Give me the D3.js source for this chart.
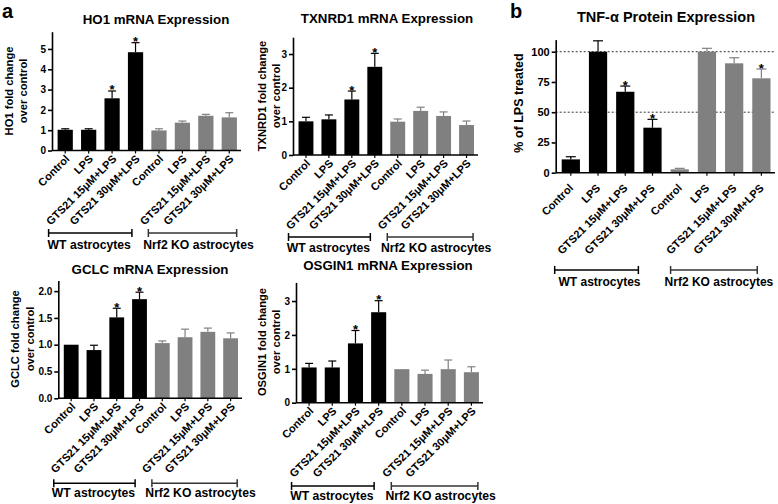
<!DOCTYPE html>
<html>
<head>
<meta charset="utf-8">
<script src="https://cdn.jsdelivr.net/npm/d3@7"></script>
<style>
  body { margin: 0; background: #fff; }
  text { font-family: "Liberation Sans", Arial, sans-serif; font-weight: bold; fill: #000; }
</style>
</head>
<body>
<div id="chart"></div>
<script>
// categories
const treatments = ["Control", "LPS", "GTS21 15\u03bcM+LPS", "GTS21 30\u03bcM+LPS"];
const categories = treatments.concat(treatments);
const cellTypes = ["WT astrocytes", "Nrf2 KO astrocytes"];

// panel a values (fold change over control), mean and SEM
const ho1Mean = [1.02, 1.02, 2.57, 4.84, 0.99, 1.37, 1.71, 1.63];
const ho1Err = [0.05, 0.05, 0.36, 0.47, 0.08, 0.08, 0.07, 0.23];
const txnrd1Mean = [1.0, 1.06, 1.65, 2.62, 0.99, 1.31, 1.16, 0.89];
const txnrd1Err = [0.12, 0.13, 0.25, 0.40, 0.08, 0.11, 0.12, 0.12];
const gclcMean = [1.0, 0.9, 1.51, 1.85, 1.03, 1.14, 1.24, 1.12];
const gclcErr = [0, 0.09, 0.17, 0.13, 0.04, 0.15, 0.07, 0.10];
const osgin1Mean = [1.04, 1.04, 1.75, 2.67, 0.99, 0.85, 0.99, 0.9];
const osgin1Err = [0.12, 0.19, 0.38, 0.34, 0, 0.11, 0.27, 0.16];

// panel b values (% of LPS treated)
const tnfMean = [11, 100, 66.9, 37.2, 2.8, 100, 90.4, 78];
const tnfErr = [2.2, 9, 4.7, 6.9, 0.8, 2.8, 4.6, 7.7];

// significance marks (bar index)
const ho1Stars = [2, 3];
const txnrd1Stars = [2, 3];
const gclcStars = [2, 3];
const osgin1Stars = [2, 3];
const tnfStars = [2, 3, 7];

// y ticks
const ho1Ticks = [0, 1, 2, 3, 4, 5];
const txnrd1Ticks = [0, 1, 2, 3];
const gclcTicks = [0, 0.5, 1, 1.5, 2];
const osgin1Ticks = [0, 1, 2, 3];
const tnfTicks = [0, 25, 50, 75, 100];
const tnfDotted = [50, 100];

let width = 778;
let height = 504;
let barColor = function (i) { return i < 4 ? "#000" : "#808080"; };

let svg = d3.select("#chart").append("svg")
  .attr("width", width)
  .attr("height", height);

const drawPanel = (p) => {
  let g = svg.append("g");

  let x = d3.scaleBand()
    .domain(d3.range(categories.length))
    .range([p.left + 1.5, p.right])
    .paddingInner(p.pad)
    .paddingOuter(p.pad / 2);

  let y = d3.scaleLinear()
    .domain([0, p.yMax])
    .range([p.bottom, p.top]);

  // dotted reference lines
  (p.dotted || []).forEach(function (v) {
    g.append("line")
      .attr("x1", p.left).attr("x2", p.right)
      .attr("y1", y(v)).attr("y2", y(v))
      .attr("stroke", "#333")
      .attr("stroke-width", 1)
      .attr("stroke-dasharray", "2,2");
  });

  // error bars (upper only)
  p.means.forEach(function (d, i) {
    if (p.errs[i] <= 0) return;
    let cx = x(i) + x.bandwidth() / 2;
    g.append("line")
      .attr("x1", cx).attr("x2", cx)
      .attr("y1", y(d)).attr("y2", y(d + p.errs[i]))
      .attr("stroke", barColor(i))
      .attr("stroke-width", 1.2);
    g.append("line")
      .attr("x1", cx - p.cap).attr("x2", cx + p.cap)
      .attr("y1", y(d + p.errs[i])).attr("y2", y(d + p.errs[i]))
      .attr("stroke", barColor(i))
      .attr("stroke-width", 1.2);
  });

  g.selectAll(".bar")
    .data(p.means)
    .enter()
    .append("rect")
    .attr("class", "bar")
    .attr("x", function (d, i) { return x(i); })
    .attr("y", function (d) { return y(d); })
    .attr("width", x.bandwidth())
    .attr("height", function (d) { return y(0) - y(d); })
    .attr("fill", function (d, i) { return barColor(i); });

  // stars
  g.selectAll(".star")
    .data(p.stars)
    .enter()
    .append("text")
    .attr("class", "star")
    .attr("x", function (i) { return x(i) + x.bandwidth() / 2; })
    .attr("y", function (i) { return y(p.means[i] + p.errs[i]) + 3.5; })
    .attr("text-anchor", "middle")
    .style("font-size", "13px")
    .text("*");

  // y axis
  let yAxis = d3.axisLeft(y)
    .tickValues(p.ticks)
    .tickFormat(p.fmt)
    .tickSize(4)
    .tickSizeOuter(0)
    .tickPadding(2);

  let ya = g.append("g")
    .attr("transform", `translate(${p.left}, 0)`)
    .call(yAxis);
  ya.selectAll("text").style("font-size", p.tickFont + "px").style("font-family", null);
  ya.selectAll("line, path").attr("stroke", "#000").attr("stroke-width", 1.6);

  // x axis
  let xAxis = d3.axisBottom(x)
    .tickFormat(function (i) { return categories[i]; })
    .tickSize(3)
    .tickSizeOuter(0);

  let xa = g.append("g")
    .attr("transform", `translate(0, ${p.bottom})`)
    .call(xAxis);
  xa.select(".domain").attr("d", `M${p.left},0H${p.right}`);
  xa.selectAll("line, path").attr("stroke", "#000").attr("stroke-width", 1.6);
  xa.selectAll("line").attr("stroke-width", 1.2);
  xa.selectAll("text")
    .attr("x", null).attr("y", null).attr("dy", null)
    .attr("text-anchor", "end")
    .attr("transform", `translate(${p.labDx}, ${p.labDy}) rotate(-45)`)
    .style("font-size", p.labFont + "px")
    .style("font-family", null);

  // y title
  p.yLabel.forEach(function (t, k) {
    g.append("text")
      .attr("transform", `translate(${p.yLabX[k]}, ${p.yLabY}) rotate(-90)`)
      .attr("text-anchor", "middle")
      .style("font-size", p.yLabFont + "px")
      .text(t);
  });

  // title
  g.append("text")
    .attr("x", p.titleX)
    .attr("y", p.titleY)
    .attr("text-anchor", "middle")
    .style("font-size", p.titleFont + "px")
    .text(p.title);

  // group brackets
  p.brackets.forEach(function (b, k) {
    let x1 = x(b[0]) + b[2];
    let x2 = x(b[1]) + b[3];
    let bg = g.append("g");
    bg.append("line")
      .attr("x1", x1).attr("x2", x2)
      .attr("y1", p.brY).attr("y2", p.brY);
    bg.append("line")
      .attr("x1", x1).attr("x2", x1)
      .attr("y1", p.brY - 4).attr("y2", p.brY + 4);
    bg.append("line")
      .attr("x1", x2).attr("x2", x2)
      .attr("y1", p.brY - 4).attr("y2", p.brY + 4);
    bg.selectAll("line").attr("stroke", k === 0 ? "#000" : "#333").attr("stroke-width", 1.5);
    bg.append("text")
      .attr("x", (x1 + x2) / 2 + b[4])
      .attr("y", p.brTextY)
      .attr("text-anchor", "middle")
      .style("font-size", p.brFont + "px")
      .text(cellTypes[k]);
  });
};

let aStyle = {
  pad: 0.35, cap: 4, tickFont: 10, labFont: 11, labDx: 5, labDy: 9,
  yLabFont: 11.2, titleFont: 13.3, brFont: 12.2, fmt: d3.format("d")
};

drawPanel(Object.assign({}, aStyle, {
  title: "HO1 mRNA Expression", titleX: 156, titleY: 24,
  yLabel: ["HO1 fold change", "over control"], yLabX: [13, 27], yLabY: 91,
  means: ho1Mean, errs: ho1Err, stars: ho1Stars, ticks: ho1Ticks,
  yMax: 5.85, left: 52, right: 241, bottom: 150.5, top: 31.7,
  brackets: [[0, 3, -9, 4, -1], [4, 7, -3, 15, 6]], brY: 233, brTextY: 249
}));

drawPanel(Object.assign({}, aStyle, {
  title: "TXNRD1 mRNA Expression", titleX: 387, titleY: 23,
  yLabel: ["TXNRD1 fold change", "over control"], yLabX: [266, 280], yLabY: 96,
  means: txnrd1Mean, errs: txnrd1Err, stars: txnrd1Stars, ticks: txnrd1Ticks,
  yMax: 3.5, left: 293, right: 478, bottom: 155, top: 37.2,
  brackets: [[0, 3, -10, 3, -1], [4, 7, -3, 14, 6]], brY: 237, brTextY: 252
}));

drawPanel(Object.assign({}, aStyle, {
  title: "GCLC mRNA Expression", titleX: 150, titleY: 274,
  yLabel: ["GCLC fold change", "over control"], yLabX: [19, 34], yLabY: 339,
  means: gclcMean, errs: gclcErr, stars: gclcStars, ticks: gclcTicks, fmt: d3.format(".1f"),
  yMax: 2.2, left: 58.3, right: 242, bottom: 398.3, top: 280.4,
  brackets: [[0, 3, -10, 3, -1], [4, 7, -3, 14, 6]], brY: 483.3, brTextY: 497
}));

drawPanel(Object.assign({}, aStyle, {
  title: "OSGIN1 mRNA Expression", titleX: 388, titleY: 270,
  yLabel: ["OSGIN1 fold change", "over control"], yLabX: [266, 280], yLabY: 342,
  means: osgin1Mean, errs: osgin1Err, stars: osgin1Stars, ticks: osgin1Ticks,
  yMax: 3.55, left: 296, right: 483, bottom: 402.7, top: 282.4,
  brackets: [[0, 3, -10, 3, -1], [4, 7, -3, 14, 6]], brY: 486, brTextY: 500
}));

drawPanel({
  pad: 0.33, cap: 5, tickFont: 11, labFont: 11, labDx: 3, labDy: 16,
  yLabFont: 12.5, titleFont: 14.5, brFont: 12, fmt: d3.format("d"),
  title: "TNF-\u03b1  Protein Expression", titleX: 666, titleY: 22,
  yLabel: ["% of LPS treated"], yLabX: [522.5], yLabY: 103,
  means: tnfMean, errs: tnfErr, stars: tnfStars, ticks: tnfTicks, dotted: tnfDotted,
  yMax: 110, left: 555.7, right: 775, bottom: 172.7, top: 39.6,
  brackets: [[0, 3, -7, -5, 3], [4, 7, 0, 5, 5]], brY: 270, brTextY: 286
});

// panel letters
svg.append("text").attr("x", 2).attr("y", 18).style("font-size", "20px").text("a");
svg.append("text").attr("x", 510).attr("y", 18).style("font-size", "20px").text("b");
</script>
</body>
</html>
